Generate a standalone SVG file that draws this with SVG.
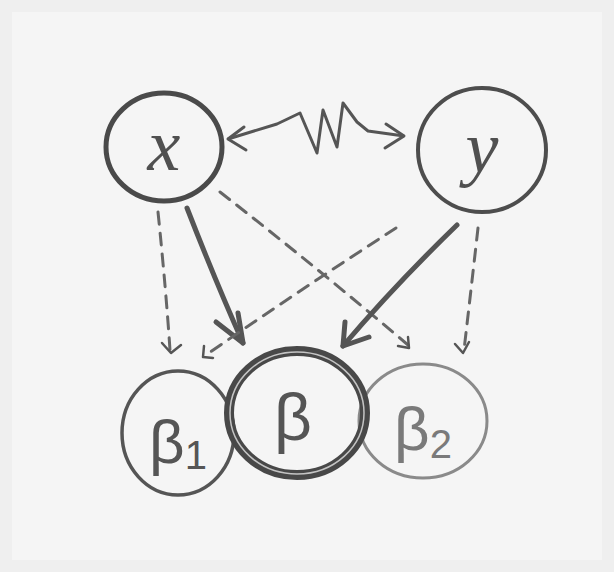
<svg xmlns="http://www.w3.org/2000/svg" width="614" height="572" viewBox="0 0 614 572">
<style>
.node{fill:none}
.lbl{font-family:"Liberation Serif",serif;text-anchor:middle}
.glbl{font-family:"Liberation Sans",sans-serif;text-anchor:middle}
.solid{fill:none;stroke:#555;stroke-width:5;stroke-linecap:round}
.dash{fill:none;stroke:#666;stroke-width:3;stroke-dasharray:12 9;stroke-linecap:round}
.head{fill:none;stroke:#555;stroke-linecap:round;stroke-linejoin:round}
</style>
<rect x="0" y="0" width="614" height="572" fill="#efefef"/>
<rect x="12" y="12" width="590" height="548" fill="#f5f5f5"/>

<g id="edges">
<path d="M228,139 L277,124 L300,113 L317,153 L323,110 L337,147 L343,103 L357,122 L368,131 L404,136" fill="none" stroke="#555" stroke-width="3" stroke-linejoin="round"/>
<path class="head" stroke-width="3" d="M244,127 L228,139 L246,150"/>
<path class="head" stroke-width="3" d="M386,124 L404,136 L385,148"/>
<path class="dash" d="M158,212 Q166,290 170,350"/>
<path class="head" stroke-width="2.5" d="M162,343 L171,353 L181,345"/>
<path class="solid" d="M187,208 Q215,280 243,343"/>
<path class="head" stroke-width="5" d="M216,322 L243,343 L238,313"/>
<path class="dash" d="M220,192 Q320,270 408,345"/>
<path class="head" stroke-width="2.5" d="M398,346 L409,348 L408,337"/>
<path class="dash" d="M396,228 Q300,290 206,355"/>
<path class="head" stroke-width="2.5" d="M204,346 L203,357 L213,358"/>
<path class="solid" d="M457,225 Q395,285 343,346"/>
<path class="head" stroke-width="5" d="M345,322 L343,346 L369,337"/>
<path class="dash" d="M478,228 Q471,290 464,350"/>
<path class="head" stroke-width="2.5" d="M455,344 L463,353 L469,342"/>
</g>

<g id="node-x">
<ellipse class="node" cx="164" cy="147" rx="58" ry="54" stroke="#4a4a4a" stroke-width="5"/>
<text class="lbl" x="164" y="170" font-size="74" font-style="italic" fill="#505050">x</text>
</g>
<g id="node-y">
<ellipse class="node" cx="482" cy="150" rx="64" ry="62" stroke="#4d4d4d" stroke-width="4"/>
<text class="lbl" x="482" y="172" font-size="74" font-style="italic" fill="#505050">y</text>
</g>
<g id="node-beta1">
<ellipse class="node" cx="178" cy="433" rx="56" ry="62" stroke="#555" stroke-width="3.5"/>
<text class="glbl" x="178" y="463" font-size="62" fill="#555">β<tspan font-size="40" dy="6">1</tspan></text>
</g>
<g id="node-beta2">
<ellipse class="node" cx="423" cy="421" rx="64" ry="57" stroke="#8a8a8a" stroke-width="3"/>
<text class="glbl" x="423" y="450" font-size="62" fill="#7a7a7a">β<tspan font-size="40" dy="8">2</tspan></text>
</g>
<g id="node-beta">
<ellipse class="node" cx="297" cy="413" rx="68" ry="62" stroke="#484848" stroke-width="10"/>
<ellipse cx="297" cy="413" rx="67" ry="61" fill="none" stroke="#c4c4c4" stroke-width="1.5"/>
<text class="glbl" x="293" y="440" font-size="66" fill="#555">β</text>
</g>
</svg>
